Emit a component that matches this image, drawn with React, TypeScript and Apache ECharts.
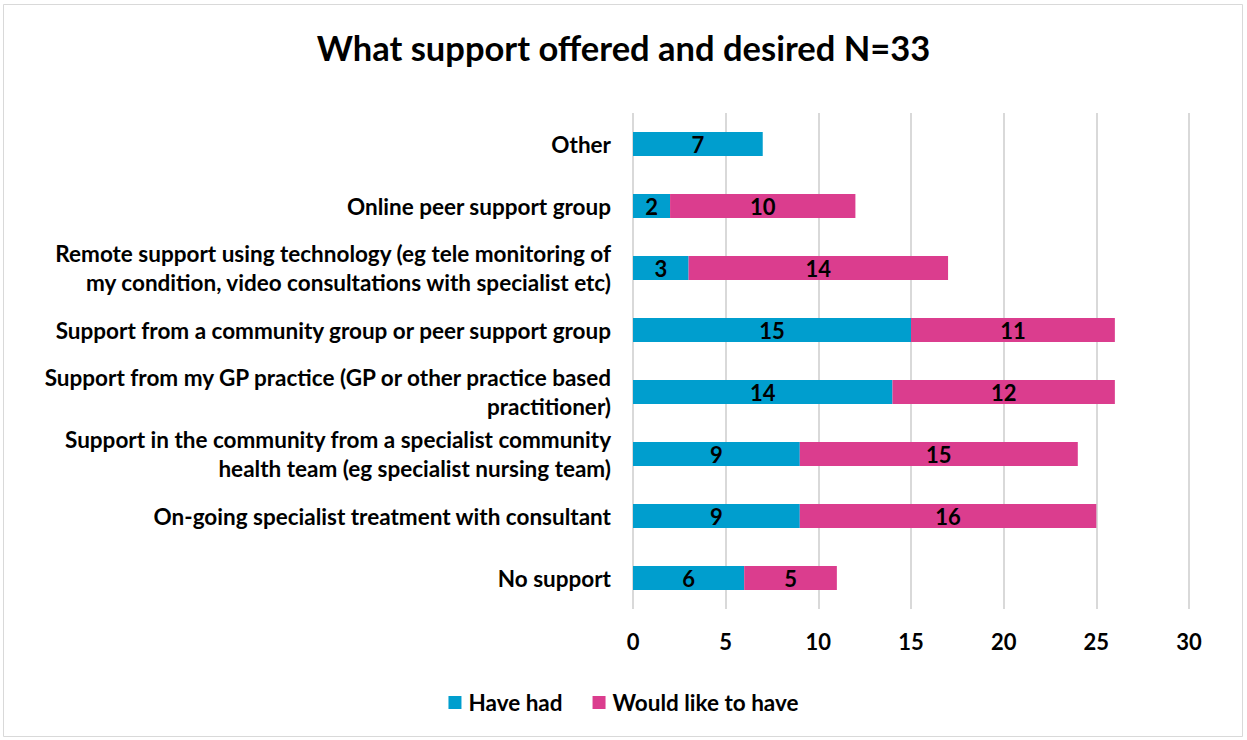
import React, { useEffect, useRef } from "react";
import * as echarts from "echarts";

const categories = [
  "No support",
  "On-going specialist treatment with consultant",
  "Support in the community from a specialist community\nhealth team (eg specialist nursing team)",
  "Support from my GP practice (GP or other practice based\npractitioner)",
  "Support from a community group or peer support group",
  "Remote support using technology (eg tele monitoring of\nmy condition, video consultations with specialist etc)",
  "Online peer support group",
  "Other",
];
const haveHad = [6, 9, 9, 14, 15, 3, 2, 7];
const wouldLike = [5, 16, 15, 12, 11, 14, 10, null];
const xTicks = [0, 5, 10, 15, 20, 25, 30];

const FONT = "Lato, 'Open Sans', sans-serif";

export default function App() {
  const ref = useRef<HTMLDivElement>(null);
  useEffect(() => {
    const chart = echarts.init(ref.current!, null, { renderer: "svg" });
    const labelCfg = {
      show: true,
      position: "inside",
      color: "#000",
      fontFamily: FONT,
      fontWeight: "bold",
      fontSize: 22,
    };
    chart.setOption({
      animation: false,
      backgroundColor: "#fff",
      title: {
        text: "What support offered and desired N=33",
        left: "center",
        top: 25,
        textStyle: { fontFamily: FONT, fontWeight: "bold", fontSize: 34.5, color: "#000" },
      },
      graphic: [
        {
          type: "rect",
          shape: { x: 3.5, y: 4.5, width: 1239, height: 732 },
          style: { fill: "none", stroke: "#d9d9d9", lineWidth: 1 },
          silent: true,
        },
      ],
      legend: {
        bottom: 21,
        left: "center",
        itemWidth: 13,
        itemHeight: 13,
        itemGap: 30,
        icon: "rect",
        textStyle: { fontFamily: FONT, fontWeight: "bold", fontSize: 22.5, color: "#000", padding: [0, 0, 0, 2] },
        data: ["Have had", "Would like to have"],
      },
      grid: { left: 633, right: 58, top: 113, bottom: 131, containLabel: false },
      xAxis: {
        type: "value",
        min: 0,
        max: 30,
        interval: 5,
        axisLine: { show: false },
        axisTick: { show: false },
        splitLine: { lineStyle: { color: "#d9d9d9", width: 2 } },
        axisLabel: {
          margin: 21,
          color: "#000",
          fontFamily: FONT,
          fontWeight: "bold",
          fontSize: 22,
          formatter: (v: number) => (xTicks.includes(v) ? String(v) : ""),
        },
      },
      yAxis: {
        type: "category",
        data: categories,
        axisLine: { show: false },
        axisTick: { show: false },
        axisLabel: {
          margin: 22,
          color: "#000",
          fontFamily: FONT,
          fontWeight: "bold",
          fontSize: 22.5,
          lineHeight: 29,
          align: "right",
        },
      },
      series: [
        {
          name: "Have had",
          type: "bar",
          stack: "s",
          barWidth: 24,
          data: haveHad,
          itemStyle: { color: "#009ECE" },
          label: labelCfg,
        },
        {
          name: "Would like to have",
          type: "bar",
          stack: "s",
          barWidth: 24,
          data: wouldLike,
          itemStyle: { color: "#DB3D8E" },
          label: labelCfg,
        },
      ],
    });
    return () => chart.dispose();
  }, []);
  return (
    <div
      ref={ref}
      style={{ position: "absolute", left: 0, top: 0, width: 1247, height: 740 }}
    />
  );
}
